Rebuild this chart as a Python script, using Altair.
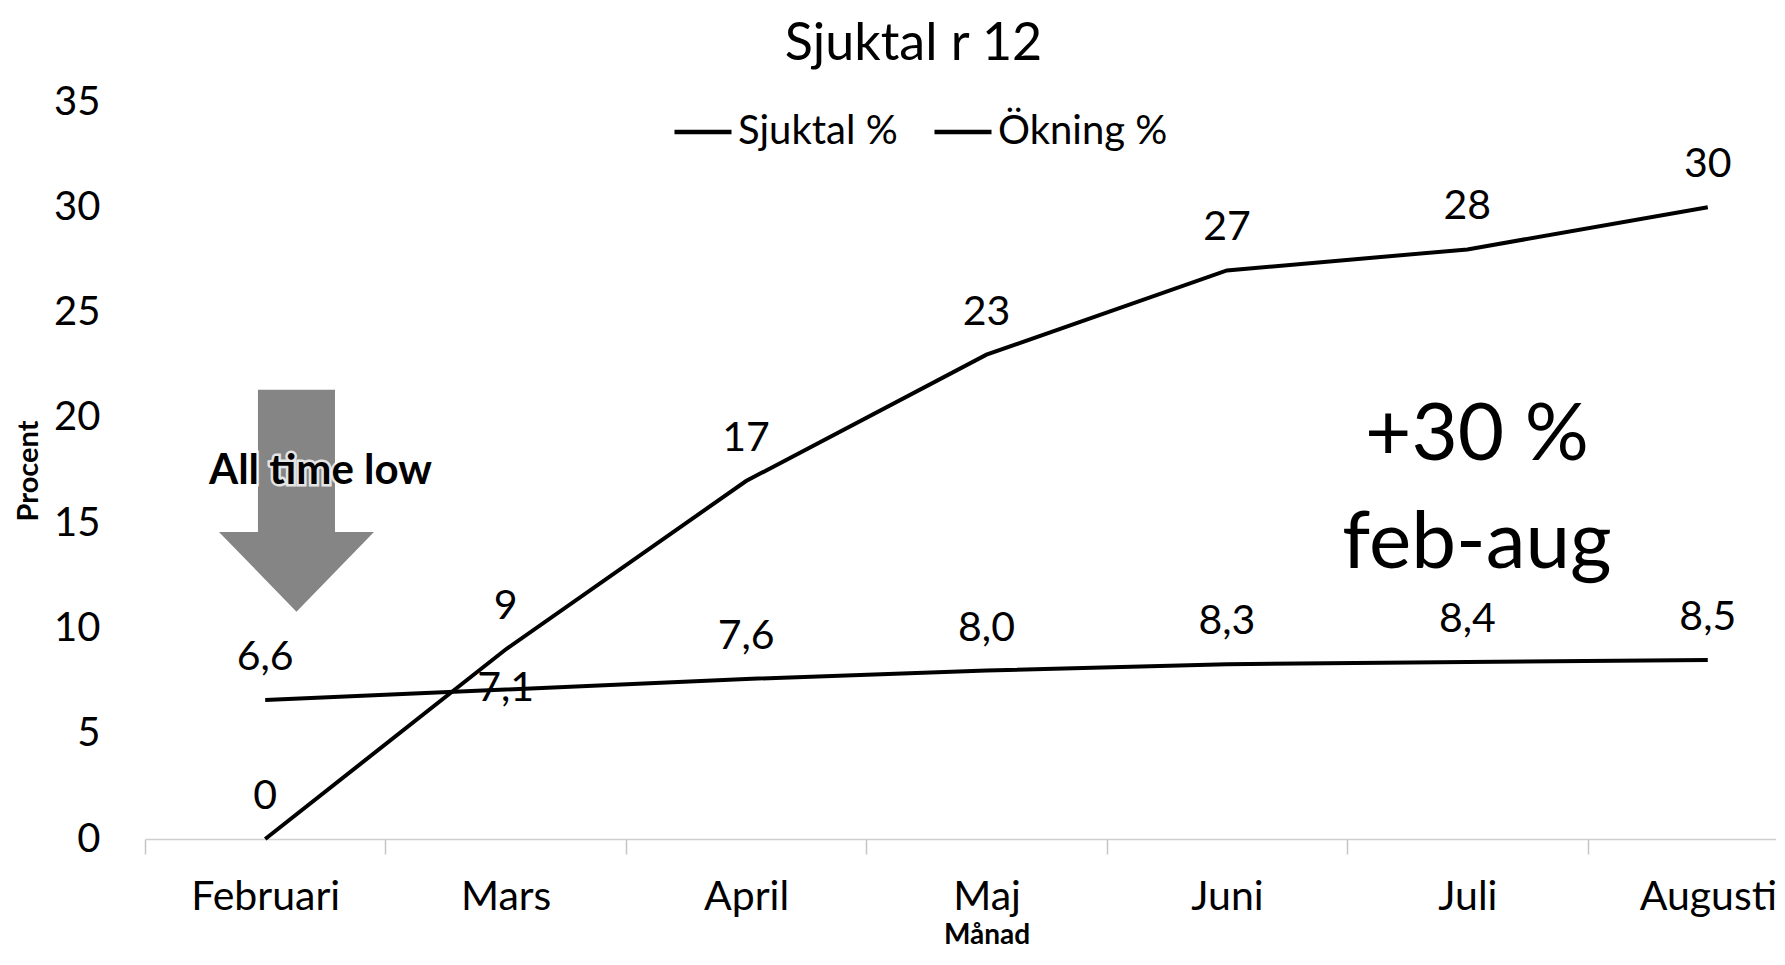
import altair as alt
import pandas as pd

months = ["Februari", "Mars", "April", "Maj", "Juni", "Juli", "Augusti"]
sjuktal = [6.6, 7.1, 7.6, 8.0, 8.3, 8.4, 8.5]
okning = [0, 9, 17, 23, 27, 28, 30]
series_names = ["Sjuktal %", "Ökning %"]

rows = []
for m, v in zip(months, sjuktal):
    rows.append({"month": m, "series": series_names[0], "value": v})
for m, v in zip(months, okning):
    rows.append({"month": m, "series": series_names[1], "value": v})
df = pd.DataFrame(rows)

FONT = "Lato"

x_enc = alt.X(
    "month:N",
    sort=months,
    bandPosition=0.5,
    scale=alt.Scale(type="band", domain=months, paddingInner=0, paddingOuter=0, range=[0, 1683]),
    axis=alt.Axis(
        title="Månad",
        titleFont=FONT,
        titleFontSize=28,
        titleFontWeight="bold",
        titleColor="black",
        titlePadding=4,
        labelFont=FONT,
        labelFontSize=41,
        labelColor="black",
        labelPadding=43,
        labelAngle=0,
        labelAlign="center",
        tickBand="extent",
        ticks=True,
        tickSize=15,
        tickColor="#c4c4c4",
        tickWidth=1.5,
        domain=True,
        domainColor="#cfcfcf",
        domainWidth=1.5,
        grid=False,
    ),
)
y_enc = alt.Y(
    "value:Q",
    scale=alt.Scale(domain=[0, 35], nice=False),
    axis=alt.Axis(
        title="Procent",
        titleFont=FONT,
        titleFontSize=29,
        titleFontWeight="bold",
        titleColor="black",
        titlePadding=10,
        values=[0, 5, 10, 15, 20, 25, 30, 35],
        labelFont=FONT,
        labelFontSize=40,
        labelColor="black",
        labelPadding=45,
        ticks=False,
        domain=False,
        grid=False,
    ),
)

base = alt.Chart(df)

lines = base.mark_line(strokeWidth=4).encode(
    x=x_enc,
    y=y_enc,
    color=alt.Color(
        "series:N",
        sort=series_names,
        scale=alt.Scale(domain=series_names, range=["black", "black"]),
        legend=alt.Legend(
            title=None,
            orient="none",
            legendX=527,
            legendY=-1,
            direction="horizontal",
            symbolType="stroke",
            symbolStrokeWidth=4.5,
            symbolSize=3249,
            labelFont=FONT,
            labelFontSize=40,
            labelColor="black",
            labelOffset=4,
            labelLimit=0,
            columnPadding=27,
        ),
    ),
)

label_expr = ("datum.series == 'Sjuktal %' ? replace(format(datum.value, '.1f'), '.', ',') "
              ": format(datum.value, '.0f')")

labels_main = base.transform_calculate(lbl=label_expr).transform_filter(
    "!(datum.series == 'Sjuktal %' && datum.month == 'Mars')"
).mark_text(font=FONT, fontSize=41, color="black", dy=-42, baseline="middle").encode(
    x=alt.X("month:N", sort=months, bandPosition=0.5),
    y="value:Q",
    text="lbl:N",
)
labels_special = base.transform_calculate(lbl=label_expr).transform_filter(
    "datum.series == 'Sjuktal %' && datum.month == 'Mars'"
).mark_text(font=FONT, fontSize=41, color="black", dy=0, baseline="middle").encode(
    x=alt.X("month:N", sort=months, bandPosition=0.5),
    y="value:Q",
    text="lbl:N",
)

# annotations
arrow_df = pd.DataFrame({"month": ["Februari"], "y": [16.06]})
arrow_path = "M -0.347 -1 L 0.347 -1 L 0.347 0.28 L 0.698 0.28 L 0 1 L -0.698 0.28 L -0.347 0.28 Z"
arrow = alt.Chart(arrow_df).mark_point(
    shape=arrow_path, size=49284, filled=True, fill="#858585", opacity=1, strokeWidth=0
).encode(
    x=alt.X("month:N", sort=months, bandPosition=0.63),
    y="y:Q",
)

low_df = pd.DataFrame({"month": ["Februari"], "y": [17.47], "t": ["All time low"]})
low_halo = alt.Chart(low_df).mark_text(
    font=FONT, fontSize=42, fontWeight="bold", color="white", stroke="white", strokeWidth=5,
    strokeOpacity=0.8, baseline="middle"
).encode(x=alt.X("month:N", sort=months, bandPosition=0.73), y="y:Q", text="t:N")
low_text = alt.Chart(low_df).mark_text(
    font=FONT, fontSize=42, fontWeight="bold", color="black", baseline="middle"
).encode(x=alt.X("month:N", sort=months, bandPosition=0.73), y="y:Q", text="t:N")

big_df = pd.DataFrame({"month": ["Juli"], "y": [19.15], "t": ["+30 %\nfeb-aug"]})
big_text = alt.Chart(big_df).mark_text(
    font=FONT, fontSize=80, color="black", baseline="middle", lineBreak="\n", lineHeight=108
).encode(x=alt.X("month:N", sort=months, bandPosition=0.54), y="y:Q", text="t:N")

chart = alt.layer(
    arrow, lines, labels_main, labels_special, low_halo, low_text, big_text
).properties(
    width=1631,
    height=737,
    title=alt.TitleParams(
        "Sjuktal r 12",
        font=FONT,
        fontSize=52,
        fontWeight="normal",
        color="black",
        anchor="middle",
        frame="group",
        dx=-47,
        offset=11,
    ),
    autosize=alt.AutoSizeParams(type="none"),
    padding={"left": 137, "top": 94, "right": 0, "bottom": 115},
).configure(background="white").configure_view(stroke=None)

chart.save("out.html", embed_options={"renderer": "svg", "actions": False})
